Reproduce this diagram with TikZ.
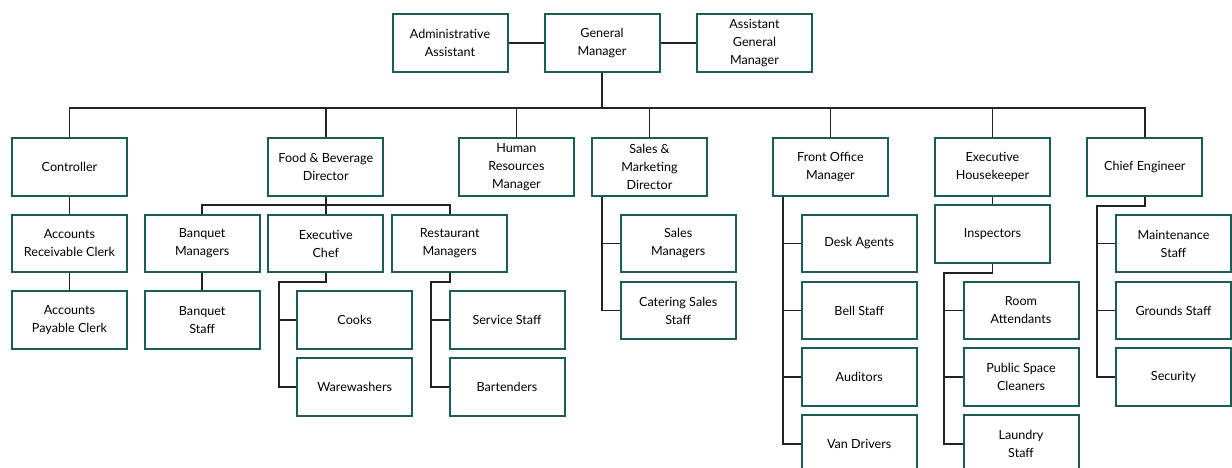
\documentclass[tikz,border=0pt]{standalone}
\usepackage{fontspec}
\setmainfont{Lato}
\usepackage{tikz}
\definecolor{boxteal}{RGB}{26,92,88}
\definecolor{linkgray}{RGB}{34,34,34}

\begin{document}
\begin{tikzpicture}[x=1pt,y=-1pt,
  box/.style={draw=boxteal, line width=2pt, fill=white, minimum width=115pt,
    minimum height=57.5pt, inner sep=0pt, align=center,
    font=\fontsize{12.6}{18}\selectfont},
  link/.style={draw=linkgray, line width=1.8pt}]
  \useasboundingbox (0,0) rectangle (1232,468);

  \node[box] (admin) at (450,43) {Administrative\\Assistant};
  \node[box] (gm) at (602,43) {General\\Manager};
  \node[box] (agm) at (754.5,43) {Assistant\\General\\Manager};

  \node[box] (ctrl) at (69.5,167) {Controller};
  \node[box] (fb) at (325.8,167) {Food \& Beverage\\Director};
  \node[box] (hr) at (516.4,167) {Human\\Resources\\Manager};
  \node[box] (sm) at (649.5,167) {Sales \&\\Marketing\\Director};
  \node[box] (fom) at (830.4,167) {Front Office\\Manager};
  \node[box] (hk) at (992.5,167) {Executive\\Housekeeper};
  \node[box] (chief) at (1144.8,167) {Chief Engineer};

  \node[box] (accrec) at (69.5,243.5) {Accounts\\Receivable Clerk};
  \node[box] (accpay) at (69.5,320) {Accounts\\Payable Clerk};

  \node[box] (bqmgr) at (202.2,243.5) {Banquet\\Managers};
  \node[box] (bqstaff) at (202.2,320) {Banquet\\Staff};
  \node[box] (chef) at (325.8,243.5) {Executive\\Chef};
  \node[box] (cooks) at (354.7,320) {Cooks};
  \node[box] (ware) at (354.7,387) {Warewashers};
  \node[box] (restmgr) at (449.7,243.5) {Restaurant\\Managers};
  \node[box] (service) at (507,320) {Service Staff};
  \node[box] (bar) at (507,387) {Bartenders};

  \node[box] (salesmgr) at (678.2,243.5) {Sales\\Managers};
  \node[box] (catering) at (678.2,310.5) {Catering Sales\\Staff};

  \node[box] (desk) at (859.2,243.5) {Desk Agents};
  \node[box] (bell) at (859.2,310.5) {Bell Staff};
  \node[box] (audit) at (859.2,377) {Auditors};
  \node[box] (van) at (859.2,443.7) {Van Drivers};

  \node[box] (insp) at (992.5,234.2) {Inspectors};
  \node[box] (room) at (1021,310.5) {Room\\Attendants};
  \node[box] (public) at (1021,377) {Public Space\\Cleaners};
  \node[box] (laundry) at (1021,443.7) {Laundry\\Staff};

  \node[box] (maint) at (1173.5,243.5) {Maintenance\\Staff};
  \node[box] (grounds) at (1173.5,310.5) {Grounds Staff};
  \node[box] (secur) at (1173.5,377) {Security};

  \coordinate (bus) at (602,108);
  \coordinate (fbbus) at (325.8,205);
  \coordinate (chefturn) at (279.3,281.7);
  \coordinate (restturn) at (430.7,281.7);
  \coordinate (inspturn) at (944.3,272.7);
  \coordinate (chiefturn) at (1097,205.7);

  \draw[link] (admin) -- (gm);
  \draw[link] (gm) -- (agm);
  \draw[link] (gm.south) -- (bus);
  \draw[link] (ctrl.north) |- (bus) -| (chief.north);
  \foreach \n in {fb,hr,sm,fom,hk}
    \draw[link] (\n.north) -- (\n.north |- bus);

  \draw[link] (ctrl) -- (accrec);
  \draw[link] (accrec) -- (accpay);

  \draw[link] (fb.south) -- (chef.north);
  \draw[link] (bqmgr.north) |- (fbbus) -| (restmgr.north);
  \draw[link] (bqmgr) -- (bqstaff);
  \draw[link] (chef.south) |- (chefturn) |- (ware.west);
  \draw[link] (cooks.west) -- (cooks.west -| chefturn);
  \draw[link] (restmgr.south) |- (restturn) |- (bar.west);
  \draw[link] (service.west) -- (service.west -| restturn);

  \draw[link] ([xshift=-47.2pt]sm.south) |- (catering.west);
  \draw[link] (salesmgr.west) -| ([xshift=-47.2pt]sm.south);

  \draw[link] ([xshift=-47.4pt]fom.south) |- (van.west);
  \foreach \n in {desk,bell,audit}
    \draw[link] (\n.west) -| ([xshift=-47.4pt]fom.south);

  \draw[link] (hk) -- (insp);
  \draw[link] (insp.south) |- (inspturn) |- (laundry.west);
  \foreach \n in {room,public}
    \draw[link] (\n.west) -- (\n.west -| inspturn);

  \draw[link] (chief.south) |- (chiefturn) |- (secur.west);
  \foreach \n in {maint,grounds}
    \draw[link] (\n.west) -- (\n.west -| chiefturn);
\end{tikzpicture}
\end{document}
